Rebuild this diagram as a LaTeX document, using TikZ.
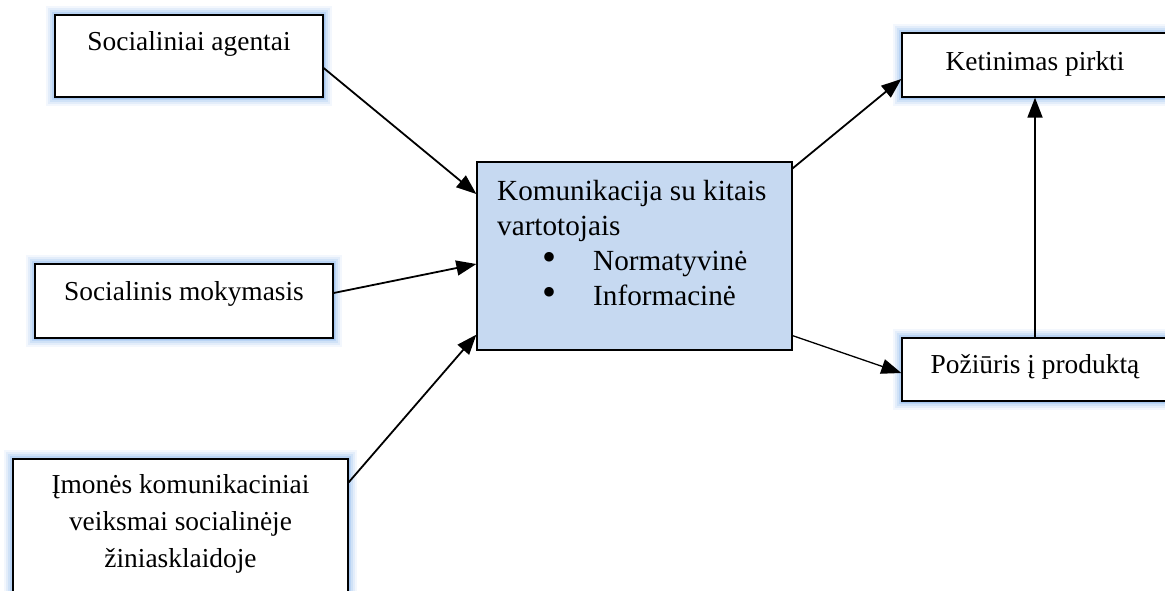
\documentclass[tikz,border=0pt]{standalone}
\usepackage{fontspec}
\setmainfont{Liberation Serif}
\usetikzlibrary{arrows.meta}
\definecolor{glowblue}{RGB}{135,180,235}
\definecolor{boxblue}{RGB}{198,217,241}

\begin{document}
\begin{tikzpicture}[x=1pt, y=-1pt,
    infobox/.style={draw=black, line width=1.3pt, fill=white, inner sep=0pt,
        preaction={draw=glowblue, line width=18pt, opacity=0.1},
        preaction={draw=glowblue, line width=14pt, opacity=0.15},
        preaction={draw=glowblue, line width=10pt, opacity=0.2},
        preaction={draw=glowblue, line width=6pt, opacity=0.3},
        preaction={draw=glowblue, line width=3pt, opacity=0.4}},
    mainbox/.style={draw=black, line width=1.3pt, fill=boxblue, inner sep=0pt},
    txt/.style={inner sep=0pt, align=center, font={\fontsize{27.4}{37}\selectfont}},
    bigtxt/.style={inner sep=0pt, align=left, font={\fontsize{29.2}{35}\selectfont}},
    arr/.style={-{Triangle[length=20pt,width=15pt]}, line width=1.8pt}]

    \useasboundingbox (0,0) rectangle (1165,590);

    \node[infobox, minimum width=268pt, minimum height=82pt]  (agent)  at (189,   56)    {};
    \node[infobox, minimum width=298pt, minimum height=74pt]  (mokym)  at (184,   301)   {};
    \node[infobox, minimum width=335pt, minimum height=161pt] (imones) at (180.5, 539.5) {};
    \node[mainbox, minimum width=315pt, minimum height=188pt] (komun)  at (634.5, 256)   {};
    \node[infobox, minimum width=266pt, minimum height=64pt]  (ketin)  at (1035,  65)    {};
    \node[infobox, minimum width=266pt, minimum height=63pt]  (poz)    at (1035,  369.5) {};

    % multi-line nodes sit on the baseline of their last line
    \node[txt, anchor=base] (agenttxt)  at (189,   50)  {Socialiniai agentai};
    \node[txt, anchor=base] (mokymtxt)  at (184,   300) {Socialinis mokymasis};
    \node[txt, anchor=base] (imonestxt) at (180.5, 567) {Įmonės komunikaciniai\\veiksmai socialinėje\\žiniasklaidoje};
    \node[txt, anchor=base] (ketintxt)  at (1035,  70)  {Ketinimas pirkti};
    \node[txt, anchor=base] (poztxt)    at (1035,  373) {Požiūris į produktą};

    \node[bigtxt, anchor=base west] (komuntxt) at (497, 305)
        {Komunikacija su kitais\\vartotojais\\
         \hspace*{45pt}\makebox[51pt][l]{\smash{\fontsize{40}{35}\selectfont •}}Normatyvinė\\
         \hspace*{45pt}\makebox[51pt][l]{\smash{\fontsize{40}{35}\selectfont •}}Informacinė};

    \draw[arr] ([yshift=-12pt]agent.east)        -- ([yshift=62pt]komun.west);
    \draw[arr] ([yshift=8pt]mokym.east)          -- ([yshift=-8pt]komun.west);
    \draw[arr] ([yshift=-24pt]imones.north east) -- ([yshift=16pt]komun.south west);
    \draw[arr] ([yshift=-7pt]komun.north east)   -- ([yshift=-14pt]ketin.west);
    \draw[arr, line width=1.3pt] ([yshift=15pt]komun.south east) -- ([yshift=-3.5pt]poz.west);
    \draw[arr] (poz.north) -- (ketin.south);

\end{tikzpicture}
\end{document}
